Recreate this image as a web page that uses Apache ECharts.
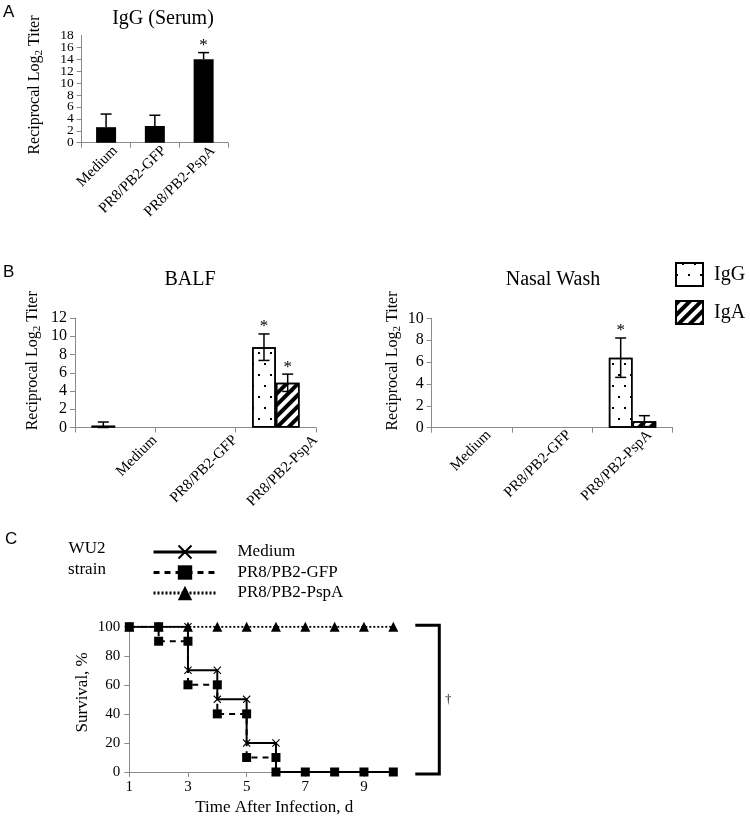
<!DOCTYPE html>
<html><head><meta charset="utf-8">
<script src="https://cdn.jsdelivr.net/npm/echarts@6/dist/echarts.min.js"></script>
<style>html,body{margin:0;padding:0;background:#fff}#c{width:750px;height:817px}</style>
</head><body><div id="c"></div>
<script>
// ---------- data ----------
const groups = ['Medium', 'PR8/PB2-GFP', 'PR8/PB2-PspA'];
const serumIgG = [2.6, 2.8, 14.0];
const serumIgGErr = [2.2, 1.8, 1.1];
const serumSig = [0, 0, 1];
const balfIgG = [0.2, 0, 8.8];
const balfIgGErr = [0.4, 0, 1.45];
const balfIgGSig = [0, 0, 1];
const balfIgA = [0, 0, 4.9];
const balfIgAErr = [0, 0, 0.95];
const balfIgASig = [0, 0, 1];
const nasalIgG = [0, 0, 6.4];
const nasalIgGErr = [0, 0, 1.8];
const nasalIgGSig = [0, 0, 1];
const nasalIgA = [0, 0, 0.6];
const nasalIgAErr = [0, 0, 0.5];
const nasalIgASig = [0, 0, 0];
const survMedium = [[1,100],[2,100],[3,100],[3,70],[4,70],[4,50],[5,50],[5,20],[6,20],[6,0],[7,0],[8,0],[9,0],[10,0]];
const survGFP = [[1,100],[2,100],[2,90],[3,90],[3,60],[4,60],[4,40],[5,40],[5,10],[6,10],[6,0],[7,0],[8,0],[9,0],[10,0]];
const survPspA = [[1,100],[2,100],[3,100],[4,100],[5,100],[6,100],[7,100],[8,100],[9,100],[10,100]];

// ---------- styles ----------
const SERIF = 'Liberation Serif';
const AX = '#8a8a8a';
const dotDecal = {symbol:'rect', symbolSize:1, color:'#000', backgroundColor:'rgba(255,255,255,0)',
  dashArrayX:[[2,10],[0,6,2,4]], dashArrayY:[2,9], rotation:0};
const stripeDecal = {symbol:'rect', symbolSize:1, color:'#000', backgroundColor:'rgba(255,255,255,0)',
  dashArrayX:[1,0], dashArrayY:[4,4], rotation:-Math.PI/4};
const X_PATH = 'path://M2,0 L10,8 L18,0 L20,2 L12,10 L20,18 L18,20 L10,12 L2,20 L0,18 L8,10 L0,2 Z';

function yName(gap, shift) {
  return {
    name: 'Reciprocal Log{s|2} Titer', nameLocation:'middle', nameGap:gap,
    nameTextStyle:{fontFamily:SERIF, fontSize:16, color:'#000', padding:[0,0,0,shift],
      rich:{s:{fontFamily:SERIF, fontSize:11, color:'#000', padding:[9,0,0,0]}}}
  };
}
function catAxis(grid, margin, pad, fs) {
  return {type:'category', gridIndex:grid, data:groups,
    axisLine:{lineStyle:{color:AX, width:1}}, axisTick:{show:true, length:5, lineStyle:{color:AX}},
    axisLabel:{rotate:45, margin:margin, padding:[0,-pad,0,0], fontFamily:SERIF, fontSize:fs, color:'#000', interval:0}};
}
function valAxis(grid, max, fs, gap, shift) {
  return Object.assign({type:'value', gridIndex:grid, min:0, max:max, interval:2,
    axisLine:{show:true, lineStyle:{color:AX, width:1}}, axisTick:{show:true, length:5, lineStyle:{color:AX}},
    splitLine:{show:false},
    axisLabel:{fontFamily:SERIF, fontSize:fs, color:'#000', margin:8, showMinLabel:true, showMaxLabel:true, hideOverlap:false}},
    yName(gap, shift));
}
function barData(vals) {
  return vals.map(v => v === 0 ? {value:0, itemStyle:{borderWidth:0}} : v);
}
function errSeries(ax, vals, errs, sig, offsetFrac, both) {
  return {type:'custom', xAxisIndex:ax, yAxisIndex:ax, z:5, silent:true,
    data: vals.map((v, i) => [i, v, errs[i], sig[i]]),
    renderItem(params, api) {
      const i = api.value(0), v = api.value(1), e = api.value(2), s = api.value(3);
      const band = api.size([1, 0])[0];
      const base = api.coord([i, v]);
      const x = base[0] + offsetFrac * band;
      const ch = [];
      const top = api.coord([i, v + e])[1];
      const cap = 11;
      if (e > 0) {
        const bot = both ? api.coord([i, Math.max(0, v - e)])[1] : base[1];
        ch.push({type:'line', shape:{x1:x, y1:top, x2:x, y2:bot}, style:{stroke:'#000', lineWidth:1.5}});
        ch.push({type:'line', shape:{x1:x-cap/2, y1:top, x2:x+cap/2, y2:top}, style:{stroke:'#000', lineWidth:1.5}});
        if (both) ch.push({type:'line', shape:{x1:x-cap/2, y1:bot, x2:x+cap/2, y2:bot}, style:{stroke:'#000', lineWidth:1.5}});
      }
      if (s) ch.push({type:'text', x:x, y:top - 7, style:{text:'*', align:'center', verticalAlign:'middle',
        font:'17px "Liberation Serif"', fill:'#000'}});
      return {type:'group', children:ch};
    }};
}
const dark = '#000';
const igGStyle = {color:'#fff', borderColor:'#000', borderWidth:1.5, decal:dotDecal};
const igAStyle = {color:'#fff', borderColor:'#000', borderWidth:1.5, decal:stripeDecal};

// panel A: crowded tick labels are split over two overlaid axes so none is auto-hidden
const serumAxisA = valAxis(0, 18, 13.5, 37, 8);
serumAxisA.axisLabel.showMaxLabel = false;
serumAxisA.axisLabel.formatter = v => (v % 4 === 0 ? String(v) : '');
const serumAxisB = {type:'value', gridIndex:0, position:'left', offset:0, min:0, max:18, interval:2,
  axisLine:{show:false}, axisTick:{show:false}, splitLine:{show:false},
  axisLabel:{fontFamily:SERIF, fontSize:13.5, color:'#000', margin:8, showMinLabel:false, showMaxLabel:true, hideOverlap:false,
    formatter: v => (v % 4 === 2 ? String(v) : '')}};

const option = {
  animation:false,
  backgroundColor:'#fff',
  title:[
    {text:'IgG (Serum)', left:158, top:4, textAlign:'center', textStyle:{fontFamily:SERIF, fontSize:20, fontWeight:'normal', color:'#000'}},
    {text:'BALF', left:185, top:265, textAlign:'center', textStyle:{fontFamily:SERIF, fontSize:20, fontWeight:'normal', color:'#000'}},
    {text:'Nasal Wash', left:548, top:265, textAlign:'center', textStyle:{fontFamily:SERIF, fontSize:20, fontWeight:'normal', color:'#000'}}
  ],
  legend:[
    {data:['IgG','IgA'], orient:'vertical', left:670, top:257, itemWidth:27, itemHeight:23, itemGap:13, icon:'rect',
      itemStyle:{borderColor:'#000', borderWidth:2}, selectedMode:false,
      textStyle:{fontFamily:SERIF, fontSize:20, color:'#000', padding:[0,0,0,6]}},
    {data:['Medium','PR8/PB2-GFP','PR8/PB2-PspA'], orient:'vertical', left:147, top:538.5, itemWidth:63, itemHeight:18,
      itemGap:3.5, selectedMode:false, lineStyle:{width:3},
      textStyle:{fontFamily:SERIF, fontSize:17, color:'#000', padding:[0,0,0,16]}}
  ],
  grid:[
    {left:81.7, top:35.3, width:146.3, height:107.4},
    {left:75, top:318, width:241, height:109.5},
    {left:431.7, top:318.3, width:241, height:109.4},
    {left:129.3, top:626.7, width:264, height:146}
  ],
  xAxis:[
    catAxis(0, 15, 13, 15),
    catAxis(1, 50, 56, 15),
    catAxis(2, 22, 24, 15),
    {type:'value', gridIndex:3, min:1, max:10, interval:2,
      name:'Time After Infection, d', nameLocation:'middle', nameGap:27,
      nameTextStyle:{fontFamily:SERIF, fontSize:17, color:'#000', padding:[0,0,0,26]},
      axisLine:{show:true, lineStyle:{color:AX}}, axisTick:{show:true, length:5, lineStyle:{color:AX}},
      splitLine:{show:false},
      axisLabel:{fontFamily:SERIF, fontSize:15, color:'#000', margin:8, showMaxLabel:false}}
  ],
  yAxis:[
    serumAxisA,
    valAxis(1, 12, 16, 32, 24),
    valAxis(2, 10, 16, 29, 24),
    {type:'value', gridIndex:3, min:0, max:100, interval:20,
      name:'Survival, %', nameLocation:'middle', nameGap:38,
      nameTextStyle:{fontFamily:SERIF, fontSize:17, color:'#000', padding:[0,0,0,14]},
      axisLine:{show:true, lineStyle:{color:AX}}, axisTick:{show:true, length:5, lineStyle:{color:AX}},
      splitLine:{show:false},
      axisLabel:{fontFamily:SERIF, fontSize:15, color:'#000', margin:9}},
    serumAxisB
  ],
  series:[
    {name:'IgG (Serum)', type:'bar', xAxisIndex:0, yAxisIndex:0, data:serumIgG, barWidth:'41%', itemStyle:{color:dark}},
    errSeries(0, serumIgG, serumIgGErr, serumSig, 0, false),

    {name:'IgG', type:'bar', xAxisIndex:1, yAxisIndex:1, data:barData(balfIgG), barGap:'0%', barCategoryGap:'41%', itemStyle:igGStyle},
    {name:'IgA', type:'bar', xAxisIndex:1, yAxisIndex:1, data:barData(balfIgA), barGap:'0%', barCategoryGap:'41%', itemStyle:igAStyle},
    errSeries(1, balfIgG, balfIgGErr, balfIgGSig, -0.1475, true),
    errSeries(1, balfIgA, balfIgAErr, balfIgASig, 0.1475, true),

    {name:'IgG', type:'bar', xAxisIndex:2, yAxisIndex:2, data:barData(nasalIgG), barGap:'0%', barCategoryGap:'41%', itemStyle:igGStyle},
    {name:'IgA', type:'bar', xAxisIndex:2, yAxisIndex:2, data:barData(nasalIgA), barGap:'0%', barCategoryGap:'41%', itemStyle:igAStyle},
    errSeries(2, nasalIgG, nasalIgGErr, nasalIgGSig, -0.1475, true),
    errSeries(2, nasalIgA, nasalIgAErr, nasalIgASig, 0.1475, true),

    {name:'Medium', type:'line', xAxisIndex:3, yAxisIndex:3, data:survMedium, symbol:X_PATH, symbolSize:8,
      showAllSymbol:true, itemStyle:{color:'#000'}, lineStyle:{color:'#000', width:2, type:'solid'}},
    {name:'PR8/PB2-GFP', type:'line', xAxisIndex:3, yAxisIndex:3, data:survGFP, symbol:'rect', symbolSize:9,
      showAllSymbol:true, itemStyle:{color:'#000'}, lineStyle:{color:'#000', width:2, type:[6,5]}},
    {name:'PR8/PB2-PspA', type:'line', xAxisIndex:3, yAxisIndex:3, data:survPspA, symbol:'triangle', symbolSize:10,
      showAllSymbol:true, itemStyle:{color:'#000'}, lineStyle:{color:'#000', width:2, type:[2,2]}}
  ],
  graphic:[
    {type:'text', left:3, top:4, style:{text:'A', font:'17px "Liberation Sans"', fill:'#000'}},
    {type:'text', left:3, top:264, style:{text:'B', font:'17px "Liberation Sans"', fill:'#000'}},
    {type:'text', left:5, top:531, style:{text:'C', font:'17px "Liberation Sans"', fill:'#000'}},
    {type:'text', x:87, y:538, style:{text:'WU2\nstrain', align:'center', font:'17px "Liberation Serif"', lineHeight:21, fill:'#000'}}
  ]
};

const chart = echarts.init(document.getElementById('c'), null, {renderer:'canvas'});
chart.setOption(option);

// significance bracket for panel C, positioned from the axis scale
const pTop = chart.convertToPixel({gridIndex:3}, [10, 100]);
const pBot = chart.convertToPixel({gridIndex:3}, [10, 0]);
const bx0 = pTop[0] + 22, bx1 = pTop[0] + 46;
chart.setOption({graphic: option.graphic.concat([
  {type:'polyline', shape:{points:[[bx0, pTop[1]-1.5],[bx1, pTop[1]-1.5],[bx1, pBot[1]+2],[bx0, pBot[1]+2]]},
    style:{stroke:'#000', lineWidth:3, fill:null}},
  {type:'text', x:bx1 + 9, y:(pTop[1]+pBot[1])/2, style:{text:'\u2020', align:'center', verticalAlign:'middle',
    font:'12px "Liberation Serif"', fill:'#000'}}
])});
</script>
</body></html>
